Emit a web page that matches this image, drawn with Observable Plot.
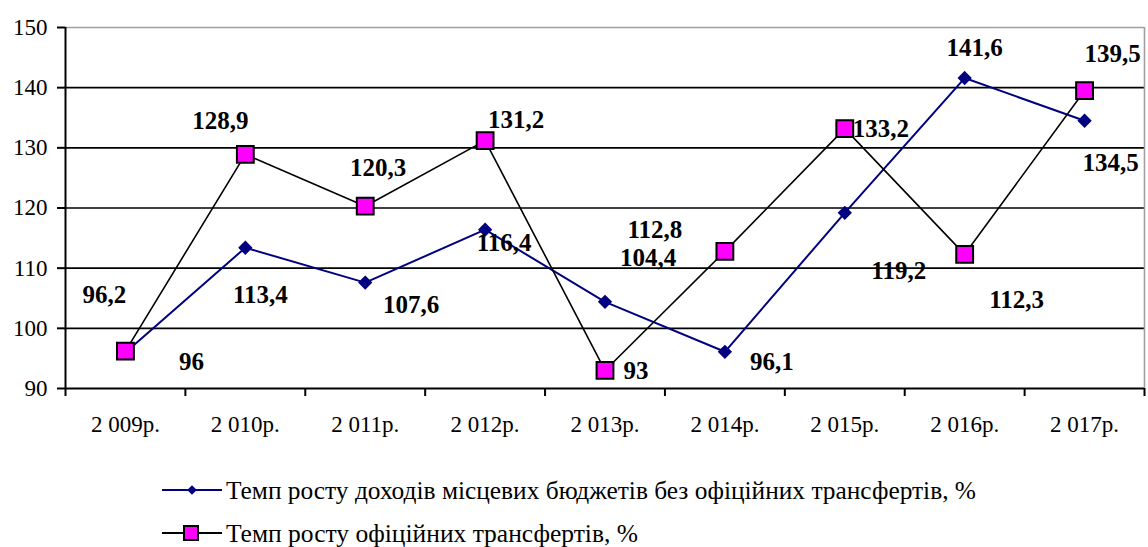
<!DOCTYPE html>
<html><head><meta charset="utf-8">
<script src="https://cdn.jsdelivr.net/npm/d3@7"></script>
<script src="https://cdn.jsdelivr.net/npm/@observablehq/plot@0.6"></script>
</head><body style="margin:0;background:#fff">
<div id="chart" style="width:1148px;height:547px;overflow:hidden"></div>
<script>
const years = ["2 009р.", "2 010р.", "2 011р.", "2 012р.", "2 013р.", "2 014р.", "2 015р.", "2 016р.", "2 017р."];
const incomeGrowth = [96, 113.4, 107.6, 116.4, 104.4, 96.1, 119.2, 141.6, 134.5];
const transferGrowth = [96.2, 128.9, 120.3, 131.2, 93, 112.8, 133.2, 112.3, 139.5];
const yTicks = [90, 100, 110, 120, 130, 140, 150];
const seriesNames = [
  "Темп росту доходів місцевих бюджетів без офіційних трансфертів, %",
  "Темп росту офіційних трансфертів, %"
];

// label placement (pixel nudges, layout only)
const incomeLabelNudge = [[66,10],[15,47],[46,22],[19,13],[43,-44],[47,10],[54,58],[10,-30],[26,42]];
const transferLabelNudge = [[-21,-56],[-25,-33],[13,-38],[31,-21],[31,1],[-70,-21],[36,0],[52,46],[28,-37]];

const FONT = "Liberation Serif";
const fmt = v => String(v).replace(".", ",");
const income = years.map((yr, i) => ({x: i + 0.5, v: incomeGrowth[i], yr}));
const transfer = years.map((yr, i) => ({x: i + 0.5, v: transferGrowth[i], yr}));

const labelMarks = [];
income.forEach((d, i) => labelMarks.push(Plot.text([d], {
  x: "x", y: "v", text: d => fmt(d.v), dx: incomeLabelNudge[i][0], dy: incomeLabelNudge[i][1],
  fontWeight: "bold", fontSize: 25, fill: "#000"
})));
transfer.forEach((d, i) => labelMarks.push(Plot.text([d], {
  x: "x", y: "v", text: d => fmt(d.v), dx: transferLabelNudge[i][0], dy: transferLabelNudge[i][1],
  fontWeight: "bold", fontSize: 25, fill: "#000"
})));

const plot = Plot.plot({
  width: 1148,
  height: 440,
  marginLeft: 65,
  marginRight: 4,
  marginTop: 27,
  marginBottom: 52,
  style: {fontFamily: FONT, fontSize: "23px", color: "#000", background: "#fff"},
  x: {type: "linear", domain: [0, years.length]},
  y: {domain: [90, 150]},
  marks: [
    Plot.ruleY(yTicks.filter(t => t > 90 && t < 150), {stroke: "#000", strokeWidth: 1.6}),
    Plot.ruleY([150], {stroke: "#a0a0a0", strokeWidth: 1.6}),
    Plot.ruleX([years.length], {stroke: "#a0a0a0", strokeWidth: 1.6}),
    Plot.axisY({ticks: yTicks, tickSize: 8, tickPadding: 10, strokeWidth: 2, label: null, fontSize: 23, tickFormat: d => d}),
    Plot.axisX({ticks: d3.range(years.length + 1), tickSize: 8, tickFormat: () => "", strokeWidth: 2, label: null}),
    Plot.axisX({ticks: years.map((y, i) => i + 0.5), tickSize: 0, tickPadding: 27, tickFormat: d => years[Math.floor(d)], label: null, fontSize: 23}),
    Plot.ruleX([0], {stroke: "#000", strokeWidth: 2}),
    Plot.ruleY([90], {stroke: "#000", strokeWidth: 2}),
    Plot.line(income, {x: "x", y: "v", stroke: "#000080", strokeWidth: 2}),
    Plot.dot(income, {x: "x", y: "v", symbol: "diamond2", r: 5.5, fill: "#000080", stroke: "#000080"}),
    Plot.line(transfer, {x: "x", y: "v", stroke: "#000", strokeWidth: 1.6}),
    Plot.dot(transfer, {x: "x", y: "v", symbol: "square", r: 9.5, fill: "#ff00ff", stroke: "#000", strokeWidth: 2}),
    ...labelMarks
  ]
});
document.getElementById("chart").appendChild(plot);

// legend below the chart
const leg = d3.create("svg").attr("width", 1148).attr("height", 107);
const rows = [
  {y: 50, stroke: "#000080", sym: "diamond", len: 750},
  {y: 93, stroke: "#000", sym: "square", len: 412}
];
rows.forEach((r, i) => {
  const g = leg.append("g");
  g.append("line").attr("x1", 162).attr("x2", 222).attr("y1", r.y).attr("y2", r.y)
    .attr("stroke", r.stroke).attr("stroke-width", 2);
  if (r.sym === "diamond") {
    g.append("path").attr("d", d3.symbol(d3.symbolDiamond2, 60)()).attr("transform", `translate(192,${r.y})`)
      .attr("fill", "#000080");
  } else {
    g.append("rect").attr("x", 184).attr("y", r.y - 7).attr("width", 14).attr("height", 14)
      .attr("fill", "#ff00ff").attr("stroke", "#000").attr("stroke-width", 2);
  }
  g.append("text").attr("x", 226).attr("y", r.y).attr("dy", "0.35em")
    .attr("font-family", FONT).attr("font-size", 25).attr("textLength", r.len)
    .attr("lengthAdjust", "spacingAndGlyphs")
    .text(seriesNames[i]);
});
document.getElementById("chart").appendChild(leg.node());
</script>
</body></html>
